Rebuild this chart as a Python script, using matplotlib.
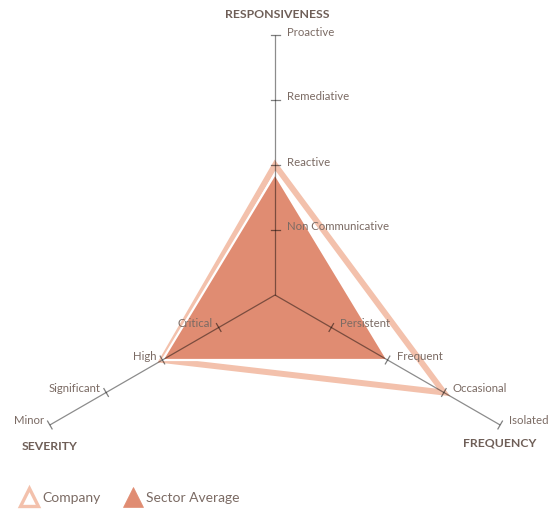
import numpy as np
import matplotlib
matplotlib.use("Agg")
import matplotlib.pyplot as plt
from matplotlib.lines import Line2D

# ---- data ----
axes_names = ["RESPONSIVENESS", "FREQUENCY", "SEVERITY"]
axis_angles_deg = [90, -30, 210]
level_labels = [
    ["Non Communicative", "Reactive", "Remediative", "Proactive"],
    ["Persistent", "Frequent", "Occasional", "Isolated"],
    ["Critical", "High", "Significant", "Minor"],
]
company = [2.0, 3.0, 2.0]
sector_average = [1.86, 2.0, 2.0]
series_names = ["Company", "Sector Average"]

company_color = "#F3C1AC"
sector_color = "#E08C72"
text_color = "#7B6B64"
title_color = "#6E5E57"
FONT = "Lato"

W, H, DPI = 556, 509, 100
PX = 65.0  # pixels per level
cx, cy = 275, 295  # center in pixels from top-left

fig = plt.figure(figsize=(W / DPI, H / DPI), dpi=DPI)
ax = fig.add_axes([0, 0, 1, 1])
ax.set_xlim(-cx / PX, (W - cx) / PX)
ax.set_ylim(-(H - cy) / PX, cy / PX)
ax.axis("off")

ang = np.deg2rad(axis_angles_deg)
ux, uy = np.cos(ang), np.sin(ang)
nlev = 4


def pt(i, v):
    return v * ux[i], v * uy[i]


# company outline
xs, ys = zip(*[pt(i, v) for i, v in enumerate(company)])
ax.fill(xs, ys, facecolor="none", edgecolor=company_color, linewidth=4.3,
        joinstyle="miter", zorder=2)
# sector average fill
xs, ys = zip(*[pt(i, v) for i, v in enumerate(sector_average)])
ax.fill(xs, ys, facecolor=sector_color, edgecolor="white", linewidth=1.6,
        joinstyle="miter", zorder=3)

# axes lines + ticks
tick_half = 4.5 / PX
for i in range(3):
    ex, ey = pt(i, nlev)
    ax.plot([0, ex], [0, ey], color="black", alpha=0.45, lw=0.9, zorder=4,
            solid_capstyle="butt")
    px_, py_ = -uy[i], ux[i]
    for lv in range(1, nlev + 1):
        tx, ty = pt(i, lv)
        ax.plot([tx - px_ * tick_half, tx + px_ * tick_half],
                [ty - py_ * tick_half, ty + py_ * tick_half],
                color="black", alpha=0.5, lw=0.9, zorder=4)

# level labels
fs = 8.2
offsets = [(12, 3, "left"), (9, 4, "left"), (-6, 4, "right")]
for i in range(3):
    dx, dy, ha = offsets[i]
    for lv in range(1, nlev + 1):
        tx, ty = pt(i, lv)
        ax.text(tx + dx / PX, ty + dy / PX, level_labels[i][lv - 1],
                ha=ha, va="center", fontsize=fs, color=text_color,
                family=FONT, zorder=5)

# axis titles
tfs = 8.8
ex, ey = pt(0, nlev)
ax.text(ex + 2 / PX, ey + 20 / PX, axes_names[0], ha="center", va="center",
        fontsize=tfs, fontweight="bold", color=title_color, family=FONT)
ex, ey = pt(1, nlev)
ax.text(ex, ey - 18 / PX, axes_names[1], ha="center", va="center",
        fontsize=tfs, fontweight="bold", color=title_color, family=FONT)
ex, ey = pt(2, nlev)
ax.text(ex, ey - 21 / PX, axes_names[2], ha="center", va="center",
        fontsize=tfs, fontweight="bold", color=title_color, family=FONT)

# legend
handles = [
    Line2D([], [], marker="^", markersize=13, markerfacecolor="white",
           markeredgecolor=company_color, markeredgewidth=2.4, linestyle="none"),
    Line2D([], [], marker="^", markersize=15, markerfacecolor=sector_color,
           markeredgecolor=sector_color, markeredgewidth=0.5, linestyle="none"),
]
leg = fig.legend(handles, series_names, loc="lower left",
                 bbox_to_anchor=(0.0175, -0.014), ncol=2, frameon=False,
                 handlelength=1.0, handletextpad=0.45, columnspacing=1.8,
                 prop={"family": FONT, "size": 10})
for t in leg.get_texts():
    t.set_color(text_color)

fig.savefig("out.png", dpi=DPI)
